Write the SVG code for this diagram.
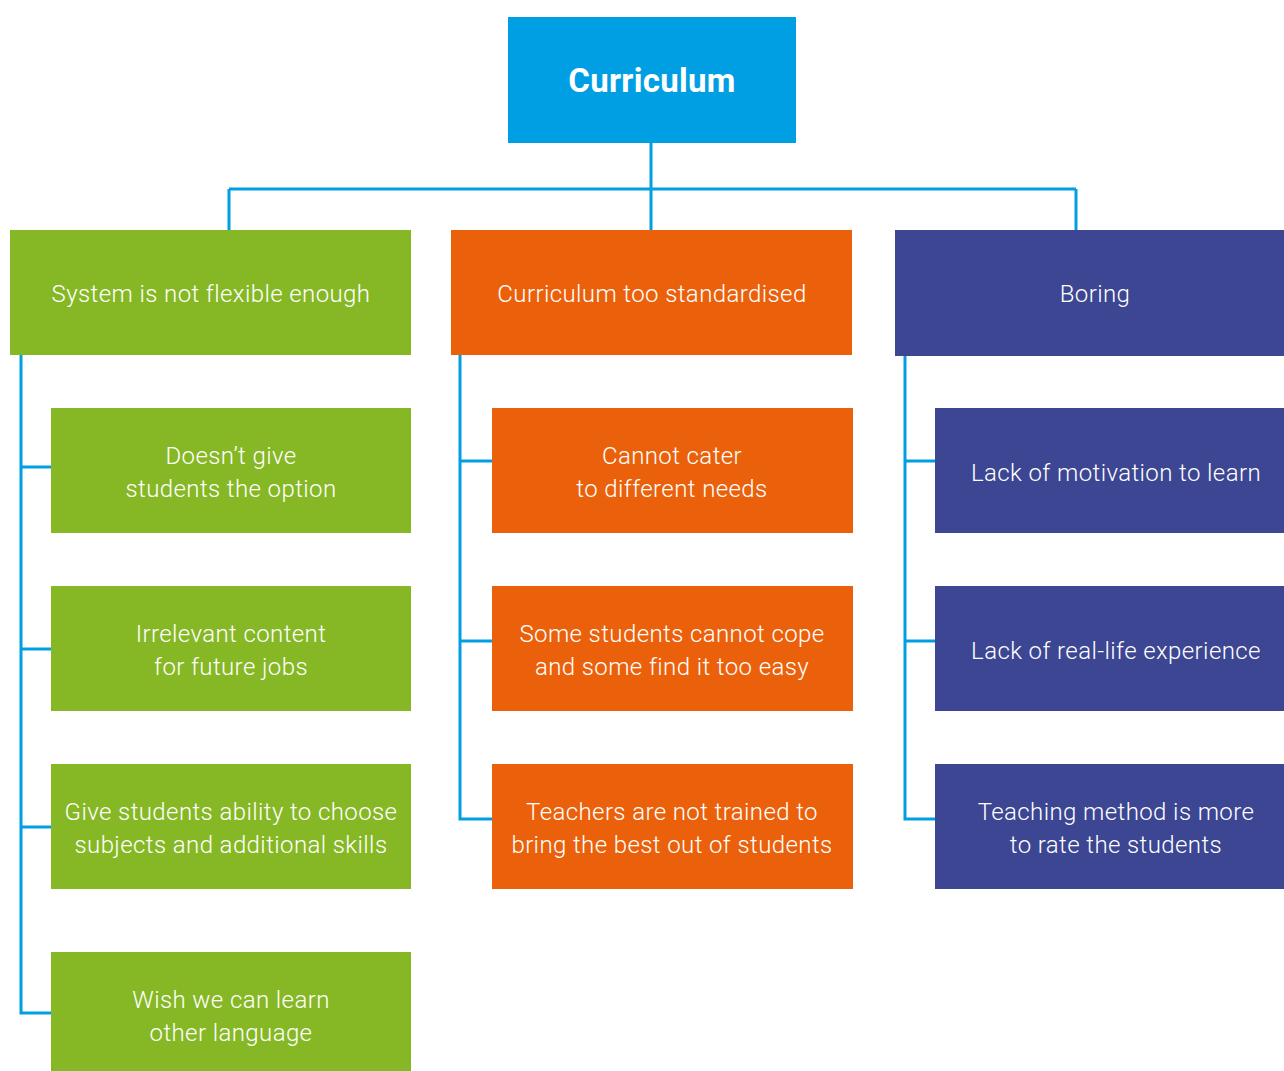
<svg xmlns="http://www.w3.org/2000/svg" width="1284" height="1071" viewBox="0 0 1284 1071">
<style>
.t{font-family:Roboto,"Liberation Sans",sans-serif;font-weight:300;font-size:24px;fill:#fff;text-anchor:middle;letter-spacing:0.4px}
.h{font-family:Roboto,"Liberation Sans",sans-serif;font-weight:700;font-size:33px;fill:#fff;text-anchor:middle;letter-spacing:0.3px}
.g{fill:#86B825}.o{fill:#EB610B}.n{fill:#3C4693}.b{fill:#009FE3}
.c{fill:none;stroke:#009FE3;stroke-width:3}
</style>
<rect width="1284" height="1071" fill="#fff"/>
<g id="connectors">
<path class="c" d="M651 143V230M229 189H1076M229 189V230M1076 189V230"/>
<path class="c" d="M21 355V1013H51M21 467H51M21 649H51M21 827H51"/>
<path class="c" d="M460 355V819H492M460 461H492M460 641H492"/>
<path class="c" d="M905 356V819H935M905 461H935M905 641H935"/>
</g>
<g id="root"><rect class="b" x="508" y="17" width="288" height="126"/><text class="h" x="652" y="92">Curriculum</text></g>
<g id="g0"><rect class="g" x="10" y="230" width="401" height="125"/><text class="t" x="211" y="302">System is not flexible enough</text></g>
<g id="o0"><rect class="o" x="451" y="230" width="401" height="125"/><text class="t" x="652" y="302">Curriculum too standardised</text></g>
<g id="n0"><rect class="n" x="895" y="230" width="389" height="126"/><text class="t" x="1095" y="302">Boring</text></g>
<g id="g1"><rect class="g" x="51" y="408" width="360" height="125"/><text class="t" x="231" y="464">Doesn’t give</text><text class="t" x="231" y="497">students the option</text></g>
<g id="g2"><rect class="g" x="51" y="586" width="360" height="125"/><text class="t" x="231" y="642">Irrelevant content</text><text class="t" x="231" y="675">for future jobs</text></g>
<g id="g3"><rect class="g" x="51" y="764" width="360" height="125"/><text class="t" x="231" y="820">Give students ability to choose</text><text class="t" x="231" y="853">subjects and additional skills</text></g>
<g id="g4"><rect class="g" x="51" y="952" width="360" height="119"/><text class="t" x="231" y="1008">Wish we can learn</text><text class="t" x="231" y="1041">other language</text></g>
<g id="o1"><rect class="o" x="492" y="408" width="361" height="125"/><text class="t" x="672" y="464">Cannot cater</text><text class="t" x="672" y="497">to different needs</text></g>
<g id="o2"><rect class="o" x="492" y="586" width="361" height="125"/><text class="t" x="672" y="642">Some students cannot cope</text><text class="t" x="672" y="675">and some find it too easy</text></g>
<g id="o3"><rect class="o" x="492" y="764" width="361" height="125"/><text class="t" x="672" y="820">Teachers are not trained to</text><text class="t" x="672" y="853">bring the best out of students</text></g>
<g id="n1"><rect class="n" x="935" y="408" width="349" height="125"/><text class="t" x="1116" y="481">Lack of motivation to learn</text></g>
<g id="n2"><rect class="n" x="935" y="586" width="349" height="125"/><text class="t" x="1116" y="659">Lack of real-life experience</text></g>
<g id="n3"><rect class="n" x="935" y="764" width="349" height="125"/><text class="t" x="1116" y="820">Teaching method is more</text><text class="t" x="1116" y="853">to rate the students</text></g>
</svg>
